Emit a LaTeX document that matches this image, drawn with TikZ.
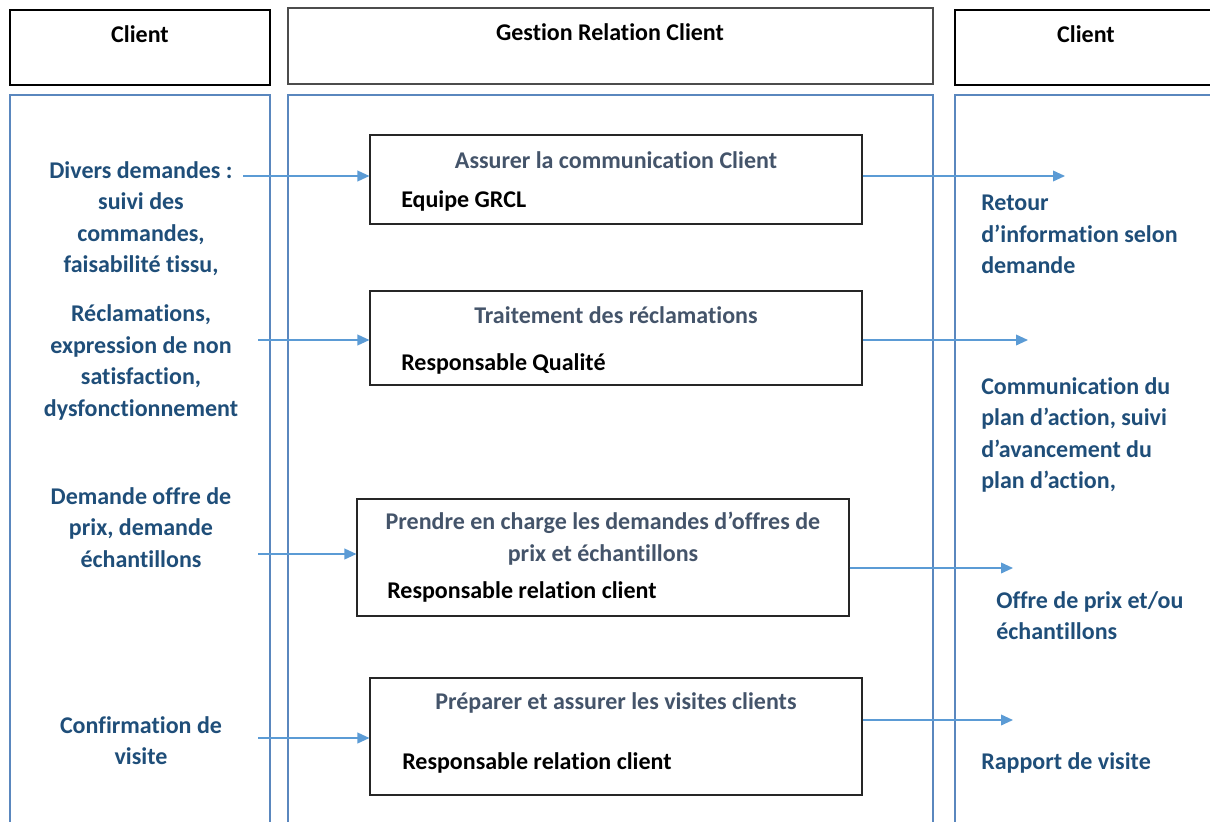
\documentclass[tikz,border=0pt]{standalone}
\usepackage{fontspec}
\setmainfont{Carlito}[Ligatures={NoCommon}]
\usetikzlibrary{arrows.meta}
\definecolor{lanecol}{HTML}{5A87BE}
\definecolor{flowcol}{HTML}{5B9BD5}
\definecolor{inkcol}{HTML}{1F4E79}
\definecolor{titlecol}{HTML}{44546A}
\begin{document}
\begin{tikzpicture}[x=0.75pt,y=-0.75pt,
  txt/.style={font=\fontsize{18}{23.6}\selectfont\bfseries, inner sep=0pt},
  hdr/.style={draw=black, line width=0.9pt, inner sep=0pt},
  hdrtext/.style={txt, text=black},
  lane/.style={draw=lanecol, line width=1.5pt},
  procbox/.style={draw=black!85, line width=0.8pt, inner sep=0pt, minimum width=369pt},
  intext/.style={txt, text=inkcol, align=center},
  outtext/.style={txt, text=inkcol, align=left, anchor=north west},
  ttl/.style={txt, text=titlecol, align=center},
  who/.style={txt, text=black, anchor=west},
  flow/.style={draw=flowcol, line width=1.2pt, -{Triangle[length=9pt,width=8pt]}}]
\useasboundingbox (0,0) rectangle (1210,821);
\begin{scope}
  \clip (0,0) rectangle (1210,821);
  % column headers
  \draw[hdr] (10,10) rectangle (270,85);
  \draw[hdr, draw=black!70] (288,8) rectangle (933,84);
  \draw[hdr] (955,10) rectangle (1230,85);
  \node[hdrtext] (hleft) at (140,34) {Client};
  \node[hdrtext] (hmid) at (610,32) {Gestion Relation Client};
  \node[hdrtext] (hright) at (1086,34) {Client};
  % swim lanes (open at the bottom)
  \draw[lane] (10,840) -- (10,95) -- (270,95) -- (270,840);
  \draw[lane] (288,840) -- (288,95) -- (933,95) -- (933,840);
  \draw[lane] (955,840) -- (955,95) -- (1230,95);
\end{scope}

% process boxes
\node[procbox, minimum height=66.75pt, fill=white] (p1) at (616,179.5) {};
\node[procbox, minimum height=70.5pt, fill=white] (p2) at (616,338) {};
\node[procbox, minimum height=87.75pt, fill=white] (p3) at (603,557.5) {};
\node[procbox, minimum height=87.75pt, fill=white] (p4) at (616,736.5) {};

\node[ttl] (t1) at (616,160) {Assurer la communication Client};
\node[who] (w1) at (401,201) {Equipe GRCL};
\node[ttl] (t2) at (616,315) {Traitement des réclamations};
\node[who] (w2) at (401,364) {Responsable Qualité};
\node[ttl] (t3) at (603,538.5) {Prendre en charge les demandes d’offres de\\prix et échantillons};
\node[who] (w3) at (387,592) {Responsable relation client};
\node[ttl] (t4) at (616,703) {Préparer et assurer les visites clients};
\node[who] (w4) at (402,763) {Responsable relation client};

% inputs from the client
\node[intext] (i1) at (141,218.5) {Divers demandes :\\suivi des\\commandes,\\faisabilité tissu,};
\node[intext] (i2) at (141,362.5) {Réclamations,\\expression de non\\satisfaction,\\dysfonctionnement};
\node[intext] (i3) at (141,527.5) {Demande offre de\\prix, demande\\échantillons};
\node[intext] (i4) at (141,740.5) {Confirmation de\\visite};

% outputs to the client
\node[outtext] (o1) at (981,195) {Retour\\d’information selon\\demande};
\node[outtext] (o2) at (981,377) {Communication du\\plan d’action, suivi\\d’avancement du\\plan d’action,};
\node[outtext] (o3) at (996,591) {Offre de prix et/ou\\échantillons};
\node[outtext] (o4) at (981,752) {Rapport de visite};

% flow start and end points
\coordinate (s1) at (243,176);
\coordinate (s2) at (258,340);
\coordinate (s3) at (258,554);
\coordinate (s4) at (258,738);
\coordinate (e1) at (1065,176);
\coordinate (e2) at (1028,340);
\coordinate (e3) at (1013,568);
\coordinate (e4) at (1013,720);

\draw[flow] (s1) -- (s1 -| p1.west);
\draw[flow] (s2) -- (s2 -| p2.west);
\draw[flow] (s3) -- (s3 -| p3.west);
\draw[flow] (s4) -- (s4 -| p4.west);
\draw[flow] (e1 -| p1.east) -- (e1);
\draw[flow] (e2 -| p2.east) -- (e2);
\draw[flow] (e3 -| p3.east) -- (e3);
\draw[flow] (e4 -| p4.east) -- (e4);
\end{tikzpicture}
\end{document}
